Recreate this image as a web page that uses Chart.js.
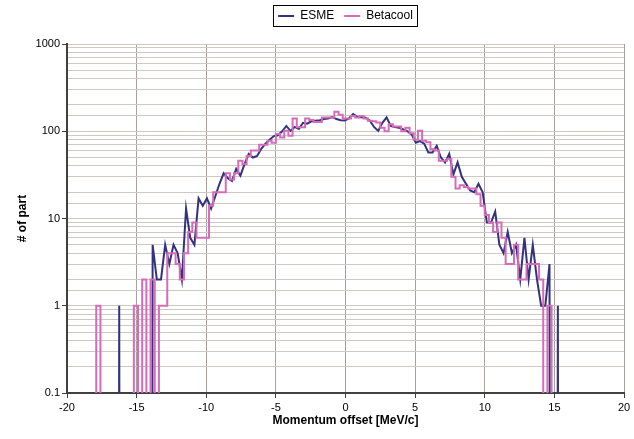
<!DOCTYPE html>
<html>
<head>
<meta charset="utf-8">
<script src="https://cdn.jsdelivr.net/npm/chart.js@4/dist/chart.umd.min.js"></script>
<style>
html,body{margin:0;padding:0;background:#ffffff;}
canvas{display:block;}
</style>
</head>
<body>
<canvas id="chart" width="634" height="439"></canvas>
<script>
// ---- Data ----
const binCenters = [
  -18.35, -18.05, -17.75, -17.45, -17.15, -16.85, -16.55, -16.25, -15.95, -15.65,
  -15.35, -15.05, -14.75, -14.45, -14.15, -13.85, -13.55, -13.25, -12.95, -12.65,
  -12.35, -12.05, -11.75, -11.45, -11.15, -10.85, -10.55, -10.25, -9.95, -9.65,
  -9.35, -9.05, -8.75, -8.45, -8.15, -7.85, -7.55, -7.25, -6.95, -6.65,
  -6.35, -6.05, -5.75, -5.45, -5.15, -4.85, -4.55, -4.25, -3.95, -3.65,
  -3.35, -3.05, -2.75, -2.45, -2.15, -1.85, -1.55, -1.25, -0.95, -0.65,
  -0.35, -0.05, 0.25, 0.55, 0.85, 1.15, 1.45, 1.75, 2.05, 2.35,
  2.65, 2.95, 3.25, 3.55, 3.85, 4.15, 4.45, 4.75, 5.05, 5.35,
  5.65, 5.95, 6.25, 6.55, 6.85, 7.15, 7.45, 7.75, 8.05, 8.35,
  8.65, 8.95, 9.25, 9.55, 9.85, 10.15, 10.45, 10.75, 11.05, 11.35,
  11.65, 11.95, 12.25, 12.55, 12.85, 13.15, 13.45, 13.75, 14.05, 14.35,
  14.65, 14.95, 15.25, 15.55
];

const esmeCounts = [
  0, 0, 0, 0, 0, 0, 0, 1, 0, 0,
  0, 0, 0, 0, 0, 5, 2, 2, 5, 3,
  5, 4, 2, 13, 6, 5, 17, 14, 17, 13,
  18, 25, 33, 29, 27, 37, 31, 42, 55, 50,
  52, 63, 72, 80, 88, 90, 100, 115, 101, 112,
  106, 125, 122, 130, 132, 134, 138, 140, 145, 138,
  134, 133, 140, 157, 146, 145, 143, 132, 112, 101,
  125, 144, 115, 112, 110, 105, 100, 92, 74, 77,
  72, 57, 57, 68, 50, 44, 55, 32, 44, 30,
  25, 21, 20, 25, 20, 9, 9, 12, 5, 4,
  7, 4, 5, 2, 6, 2, 5, 2, 1, 1,
  3, 0, 1, 0
];

const betacoolCounts = [
  0, 0, 1, 0, 0, 0, 0, 0, 0, 0,
  0, 1, 0, 2, 0, 2, 0, 1, 1, 4,
  4, 3, 2, 4, 7, 9, 6, 6, 6, 14,
  20, 20, 20, 33, 28, 33, 46, 42, 52, 60,
  60, 70, 70, 78, 74, 93, 85, 101, 89, 140,
  111, 111, 140, 135, 128, 128, 144, 144, 144, 167,
  155, 140, 140, 150, 144, 150, 140, 132, 130, 126,
  110, 100, 120, 113, 113, 100, 110, 95, 80, 101,
  78, 75, 62, 60, 46, 46, 48, 30, 22, 24,
  23, 22, 22, 19, 14, 11, 9, 7, 9, 6,
  3, 3, 5, 2, 2, 3, 3, 3, 2, 0,
  1, 0, 0, 0
];

const seriesNames = ['ESME', 'Betacool'];
const yTickLabels = ['0.1', '1', '10', '100', '1000'];
const xAxisTitle = 'Momentum offset [MeV/c]';
const yAxisTitle = '# of part';

// ---- Helpers ----
// Empty bins: the original (Excel) draws them as drops to -infinity on the log axis.
const ZERO_ON_LOG = 1e-30;
const toPoints = counts => counts.map((v, i) => ({ x: binCenters[i], y: v > 0 ? v : ZERO_ON_LOG }));
function isDecade(v) {
  if (!(v > 0)) return false;
  const l = Math.log10(v);
  return Math.abs(l - Math.round(l)) < 1e-6;
}

const FONT = 'Liberation Sans, Arial, sans-serif';

// Draws the black frame around the legend
const legendFrame = {
  id: 'legendFrame',
  afterDraw(chart) {
    const lg = chart.legend;
    if (!lg || !lg.legendHitBoxes || !lg.legendHitBoxes.length) return;
    let l = Infinity, r = -Infinity, t = Infinity, b = -Infinity;
    lg.legendHitBoxes.forEach(h => {
      l = Math.min(l, h.left); r = Math.max(r, h.left + h.width);
      t = Math.min(t, h.top); b = Math.max(b, h.top + h.height);
    });
    const ctx = chart.ctx;
    ctx.save();
    ctx.strokeStyle = '#000000';
    ctx.lineWidth = 1;
    ctx.strokeRect(Math.round(l - 5) + 0.5, Math.round(t - 5) + 0.5, Math.round(r - l + 9), Math.round(b - t + 9));
    ctx.restore();
  }
};

new Chart(document.getElementById('chart').getContext('2d'), {
  type: 'line',
  data: {
    datasets: [
      {
        label: seriesNames[0],
        data: toPoints(esmeCounts),
        borderColor: '#32327f',
        backgroundColor: '#32327f',
        borderWidth: 2,
        pointRadius: 0,
        tension: 0,
        order: 2
      },
      {
        label: seriesNames[1],
        data: toPoints(betacoolCounts),
        borderColor: '#d46cb8',
        backgroundColor: '#d46cb8',
        borderWidth: 2,
        pointRadius: 0,
        stepped: 'middle',
        order: 1
      }
    ]
  },
  options: {
    responsive: false,
    animation: false,
    devicePixelRatio: 1,
    layout: { padding: { left: 0, right: 10, top: 0, bottom: 0 } },
    plugins: {
      legend: {
        position: 'top',
        fullSize: false,
        labels: {
          usePointStyle: true,
          pointStyle: 'line',
          pointStyleWidth: 16,
          padding: 10,
          color: '#000000',
          font: { family: FONT, size: 12 },
          sort: (a, b) => a.datasetIndex - b.datasetIndex
        }
      },
      title: {
        display: true,
        text: '',
        position: 'top',
        fullSize: false,
        weight: 500,
        padding: { top: 0, bottom: 10.8 },
        font: { size: 1 }
      },
      tooltip: { enabled: false }
    },
    scales: {
      x: {
        type: 'linear',
        min: -20,
        max: 20,
        ticks: {
          stepSize: 5,
          autoSkip: false,
          maxRotation: 0,
          padding: 3,
          color: '#000000',
          font: { family: FONT, size: 11 }
        },
        grid: {
          color: '#a9a19d',
          lineWidth: 1,
          tickColor: '#404040',
          tickLength: 5
        },
        border: { color: '#404040', width: 2 },
        title: {
          display: true,
          text: xAxisTitle,
          color: '#000000',
          font: { family: FONT, size: 12, weight: 'bold' },
          padding: { top: 0, bottom: 11 }
        },
        afterFit: s => { s.height = 46; }
      },
      y: {
        type: 'logarithmic',
        min: 0.1,
        max: 1000,
        ticks: {
          autoSkip: false,
          padding: 2,
          color: '#000000',
          font: { family: FONT, size: 11 },
          callback: v => isDecade(v) ? yTickLabels[Math.round(Math.log10(v)) + 1] : ''
        },
        grid: {
          color: '#cfc9c4',
          lineWidth: 1,
          tickColor: c => (c.tick && isDecade(c.tick.value)) ? '#404040' : 'rgba(0,0,0,0)',
          tickLength: 5
        },
        border: { color: '#404040', width: 2 },
        title: {
          display: true,
          text: yAxisTitle,
          color: '#000000',
          font: { family: FONT, size: 12, weight: 'bold' },
          padding: { top: 15, bottom: 0 }
        },
        afterFit: s => { s.width = 67; }
      }
    }
  },
  plugins: [legendFrame]
});
</script>
</body>
</html>
